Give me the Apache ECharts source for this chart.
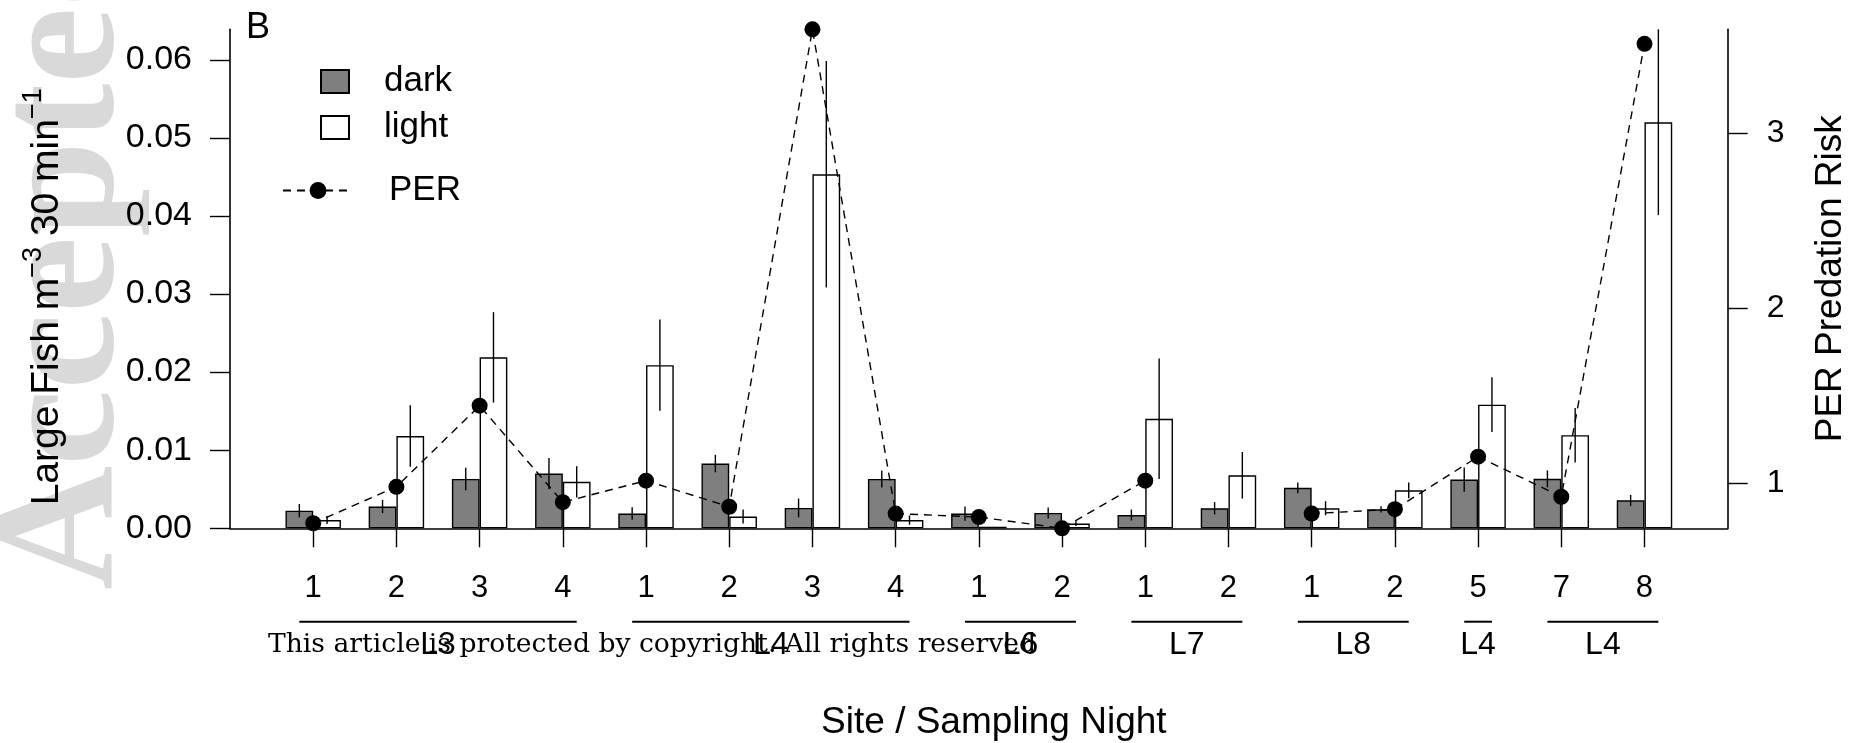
<!DOCTYPE html>
<html>
<head>
<meta charset="utf-8">
<title>Large fish density and PER predation risk</title>
<script src="https://cdn.jsdelivr.net/npm/echarts@6/dist/echarts.min.js"></script>
<style>
  html, body { margin: 0; padding: 0; background: #fff; }
  #chart { width: 1851px; height: 743px; }
</style>
</head>
<body>
<div id="chart"></div>
<script>
// Sampling nights (tick labels) and the site each run of nights belongs to
const nights = ['1', '2', '3', '4', '1', '2', '3', '4', '1', '2', '1', '2', '1', '2', '5', '7', '8'];
const siteLabels = ['L3', 'L4', 'L6', 'L7', 'L8', 'L4', 'L4'];
const siteNights = [4, 4, 2, 2, 2, 1, 2];

// Mean large-fish density (fish m^-3 30 min^-1) and standard errors
const dark    = [0.00226, 0.00279, 0.00632, 0.00701, 0.00188, 0.00829, 0.00261, 0.00632, 0.00188, 0.00197, 0.00170, 0.00257, 0.00518, 0.00243, 0.00624, 0.00633, 0.00358];
const darkSE  = [0.00085, 0.00085, 0.00144, 0.00200, 0.00080, 0.00112, 0.00120, 0.00108, 0.00090, 0.00070, 0.00070, 0.00080, 0.00070, 0.00040, 0.00156, 0.00108, 0.00070];
const light   = [0.00106, 0.01182, 0.02189, 0.00595, 0.02089, 0.00151, 0.04534, 0.00105, 0.00020, 0.00060, 0.01402, 0.00679, 0.00257, 0.00486, 0.01583, 0.01193, 0.05200];
const lightSE = [0.00050, 0.00394, 0.00579, 0.00200, 0.00584, 0.00090, 0.01450, 0.00060, 0.00000, 0.00030, 0.00772, 0.00298, 0.00090, 0.00100, 0.00351, 0.00349, 0.01190];

// PER predation risk per night (no estimate for L7 night 2)
const per = [0.774, 0.982, 1.445, 0.894, 1.017, 0.868, 3.594, 0.829, 0.809, 0.745, 1.017, null, 0.829, 0.854, 1.154, 0.925, 3.511];

// Axis tick values
const fishTicks = [0, 0.01, 0.02, 0.03, 0.04, 0.05, 0.06];
const perTicks = [1, 2, 3];

const FONT = '"Liberation Sans", Arial, Helvetica, sans-serif';
const SERIF = '"Liberation Serif", "Times New Roman", serif';
const SERIF_WIDE = '"DejaVu Serif", "Liberation Serif", serif';

// One empty slot on each side keeps a gap between the outer groups and the box
const categories = [''].concat(nights, ['']);
const pad = arr => [null].concat(arr, [null]);

const fishMax = Math.max(...light.map((v, i) => v + lightSE[i]), ...dark.map((v, i) => v + darkSE[i]));
const perVals = per.filter(v => v !== null);
const perMin = Math.min(...perVals);
const perMax = Math.max(...perVals);

// Site spans as [first slot, last slot]
const siteSpans = [];
let pos = 1;
siteNights.forEach(n => { siteSpans.push([pos, pos + n - 1]); pos += n; });

function errorBars(mean, se, side) {
  return {
    type: 'custom',
    yAxisIndex: 0,
    z: 4,
    silent: true,
    data: mean.map((m, i) => [i + 1, m, se[i]]),
    renderItem(params, api) {
      const x = api.value(0), m = api.value(1), s = api.value(2);
      if (!s) return null;
      const off = side * api.size([1, 0])[0] / 6;
      const hi = api.coord([x, m + s]);
      const lo = api.coord([x, m - s]);
      return {
        type: 'line',
        shape: { x1: hi[0] + off, y1: hi[1], x2: lo[0] + off, y2: lo[1] },
        style: { stroke: '#000', lineWidth: 1.4 }
      };
    }
  };
}

const legendText = { fontFamily: FONT, fontSize: 35, color: '#000', padding: [0, 0, 0, 30] };

const chart = echarts.init(document.getElementById('chart'), null, { renderer: 'canvas' });

chart.setOption({
  backgroundColor: '#fff',
  animation: false,
  textStyle: { fontFamily: FONT, color: '#000' },
  title: {
    text: 'B', left: 246, top: 10, padding: 0,
    textStyle: { fontFamily: FONT, fontSize: 36, fontWeight: 'normal', color: '#000' }
  },
  legend: [
    {
      data: [{ name: 'dark', icon: 'rect' }], left: 320, top: 64, padding: 0,
      itemWidth: 28, itemHeight: 23,
      textStyle: legendText
    },
    {
      data: [{ name: 'light', icon: 'rect' }], left: 320, top: 110, padding: 0,
      itemWidth: 28, itemHeight: 23,
      textStyle: legendText
    },
    {
      data: ['PER'], left: 282, top: 173, padding: 0,
      itemWidth: 70, itemHeight: 21,
      textStyle: Object.assign({}, legendText, { padding: [0, 0, 0, 31] })
    }
  ],
  grid: {
    left: 230, right: 123.3, top: 29.3, bottom: 214.7,
    containLabel: false, outerBoundsMode: 'none'
  },
  xAxis: {
    type: 'category',
    data: categories,
    boundaryGap: false,
    name: 'Site / Sampling Night',
    nameLocation: 'middle',
    nameGap: 176,
    nameTextStyle: { fontFamily: FONT, fontSize: 37, color: '#000', lineHeight: 37, padding: [0, 0, 0, 30] },
    axisLine: { show: true, onZero: true, lineStyle: { color: '#000', width: 1.6 } },
    axisTick: {
      show: true, inside: false, length: 19,
      interval: (i, v) => v !== '',
      lineStyle: { color: '#000', width: 1.4 }
    },
    axisLabel: {
      interval: 0, margin: 45,
      fontFamily: FONT, fontSize: 31, color: '#000', lineHeight: 31
    },
    splitLine: { show: false }
  },
  yAxis: [
    {
      type: 'value',
      position: 'left',
      min: 0,
      max: fishMax,
      name: 'Large Fish m{sup|\u22123} 30 min{sup|\u22121}',
      nameLocation: 'middle',
      nameRotate: 90,
      nameGap: 156,
      nameTextStyle: {
        fontFamily: FONT, fontSize: 39, color: '#000', lineHeight: 54, verticalAlign: 'bottom',
        padding: [0, 36, 0, 0],
        rich: {
          sup: { fontFamily: FONT, fontSize: 27, color: '#000', lineHeight: 27, verticalAlign: 'top' }
        }
      },
      axisLine: { show: true, lineStyle: { color: '#000', width: 1.6 } },
      axisTick: {
        show: true, inside: false, length: 20,
        customValues: fishTicks,
        lineStyle: { color: '#000', width: 1.4 }
      },
      axisLabel: {
        margin: 38,
        customValues: fishTicks,
        formatter: v => v.toFixed(2),
        fontFamily: FONT, fontSize: 34, color: '#000'
      },
      splitLine: { show: false }
    },
    {
      type: 'value',
      position: 'right',
      min: perMin,
      max: perMax,
      name: 'PER Predation Risk',
      nameLocation: 'middle',
      nameRotate: 90,
      nameGap: 85,
      nameTextStyle: { fontFamily: FONT, fontSize: 37, color: '#000', lineHeight: 37 },
      axisLine: { show: true, lineStyle: { color: '#000', width: 1.6 } },
      axisTick: {
        show: true, inside: false, length: 20,
        customValues: perTicks,
        lineStyle: { color: '#000', width: 1.4 }
      },
      axisLabel: {
        margin: 39,
        customValues: perTicks,
        formatter: v => String(Math.round(v)),
        fontFamily: FONT, fontSize: 32, color: '#000'
      },
      splitLine: { show: false }
    }
  ],
  graphic: [
    {
      type: 'text', silent: true, z: -10,
      x: 68, y: 590, rotation: Math.PI / 2,
      style: {
        text: 'Accepted Article', font: 'bold 172px ' + SERIF, fill: '#d9d9d9',
        align: 'left', verticalAlign: 'middle'
      }
    },
    {
      type: 'text', silent: true, z: 100,
      x: 268, y: 645,
      style: {
        text: 'This article is protected by copyright. All rights reserved',
        font: '26.6px ' + SERIF_WIDE, fill: '#000',
        align: 'left', verticalAlign: 'middle'
      }
    }
  ],
  series: [
    {
      name: 'dark', type: 'bar', yAxisIndex: 0,
      data: pad(dark),
      barWidth: '33.333%', barGap: '0%',
      itemStyle: { color: '#7f7f7f', borderColor: '#000', borderWidth: 1.4 },
      z: 2
    },
    {
      name: 'light', type: 'bar', yAxisIndex: 0,
      data: pad(light),
      barWidth: '33.333%', barGap: '0%',
      itemStyle: { color: '#ffffff', borderColor: '#000', borderWidth: 1.4 },
      z: 2
    },
    errorBars(dark, darkSE, -1),
    errorBars(light, lightSE, 1),
    {
      name: 'PER', type: 'line', yAxisIndex: 1,
      data: pad(per),
      connectNulls: false,
      symbol: 'circle', symbolSize: 16,
      itemStyle: { color: '#000' },
      lineStyle: { color: '#000', width: 1.4, type: [8, 6] },
      z: 5
    },
    {
      // Underlines and site names beneath each run of nights
      type: 'custom', yAxisIndex: 0, silent: true, z: 3,
      data: siteSpans,
      renderItem(params, api) {
        const s = api.value(0), e = api.value(1);
        const half = api.size([1, 0])[0] / 6;
        const p0 = api.coord([s, 0]);
        const p1 = api.coord([e, 0]);
        const yLine = p0[1] + 93.4;
        const yText = p0[1] + 117;
        return {
          type: 'group',
          children: [
            {
              type: 'line',
              shape: { x1: p0[0] - half, y1: yLine, x2: p1[0] + half, y2: yLine },
              style: { stroke: '#000', lineWidth: 2 }
            },
            {
              type: 'text',
              x: (p0[0] + p1[0]) / 2, y: yText,
              style: {
                text: siteLabels[params.dataIndex],
                font: '32px ' + FONT, fill: '#000',
                align: 'center', verticalAlign: 'middle'
              }
            }
          ]
        };
      }
    }
  ]
});
</script>
</body>
</html>
